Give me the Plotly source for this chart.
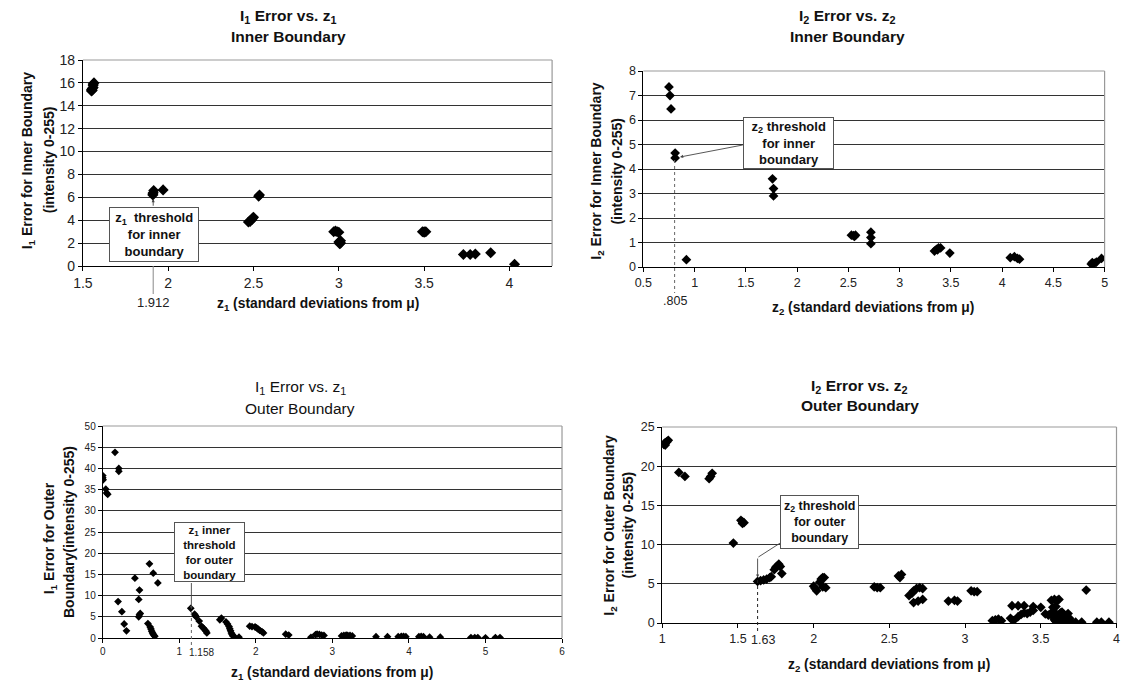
import plotly.graph_objects as go

W, H = 1121, 683
FONT = "Liberation Sans, Arial, sans-serif"

# ---------------- data ----------------
# Top-left: I1 error vs z1, inner boundary
tl_z1 = [1.55, 1.55, 1.555, 1.56, 1.56, 1.565, 1.56, 1.555,
         1.91, 1.912, 1.915, 1.91, 1.97,
         2.47, 2.48, 2.48, 2.49, 2.495, 2.50, 2.53, 2.535,
         2.97, 2.98, 2.99, 3.00, 3.01, 3.00, 3.01, 3.005,
         3.49, 3.50, 3.51, 3.50,
         3.73, 3.77, 3.80, 3.89, 4.03]
tl_err = [15.3, 15.4, 15.5, 15.6, 15.8, 16.0, 15.9, 15.35,
          6.2, 6.4, 6.6, 6.3, 6.65,
          3.85, 3.9, 3.95, 4.05, 4.2, 4.25, 6.1, 6.2,
          3.0, 3.05, 3.0, 2.95, 2.0, 2.1, 2.2, 1.95,
          3.0, 3.0, 3.0, 2.95,
          1.0, 1.0, 1.05, 1.15, 0.15]

# Top-right: I2 error vs z2, inner boundary
tr_z2 = [0.75, 0.76, 0.77, 0.81, 0.81, 0.92,
         1.76, 1.77, 1.77,
         2.53, 2.55, 2.57, 2.56,
         2.72, 2.72, 2.72,
         3.34, 3.36, 3.38, 3.40, 3.37, 3.49,
         4.08, 4.12, 4.15, 4.17,
         4.87, 4.88, 4.90, 4.92, 4.97]
tr_err = [7.35, 7.0, 6.45, 4.65, 4.45, 0.3,
          3.6, 3.2, 2.9,
          1.3, 1.28, 1.3, 1.25,
          1.42, 1.2, 0.95,
          0.65, 0.72, 0.78, 0.78, 0.7, 0.57,
          0.38, 0.42, 0.35, 0.32,
          0.12, 0.18, 0.15, 0.2, 0.35]

# Bottom-left: I1 error vs z1, outer boundary
bl_z1 = [0.0, 0.0, 0.005, 0.04, 0.05, 0.065, 0.16, 0.21, 0.21,
         0.2, 0.25, 0.28, 0.31, 0.42, 0.48, 0.47, 0.47, 0.48, 0.49,
         0.61, 0.66, 0.72, 0.59,
         0.62, 0.63, 0.64, 0.65, 0.66, 0.67, 0.68,
         1.15, 1.20, 1.21, 1.22, 1.26, 1.29, 1.31, 1.33, 1.35, 1.36,
         1.53, 1.55, 1.61, 1.63, 1.65, 1.66, 1.67, 1.68, 1.69, 1.70, 1.72, 1.78,
         1.92, 1.95, 1.99, 2.01, 2.03, 2.05, 2.08, 2.10,
         2.39, 2.43, 2.72, 2.78, 2.80, 2.83, 2.86, 2.89,
         3.12, 3.15, 3.18, 3.20, 3.23, 3.26,
         3.57, 3.72, 3.86, 3.90, 3.93, 3.96, 4.13, 4.16, 4.19, 4.27, 4.41,
         4.81, 4.86, 4.90, 5.00, 5.13, 5.19]
bl_err = [38.3, 37.8, 37.3, 35.1, 34.2, 33.9, 43.8, 40.0, 39.3,
          8.6, 6.2, 3.3, 1.7, 14.1, 11.3, 9.1, 5.0, 5.5, 5.8,
          17.5, 15.3, 13.0, 3.4,
          2.6, 2.1, 1.6, 1.2, 0.9, 0.6, 0.4,
          7.0, 5.6, 5.3, 5.0, 4.0, 2.8, 2.4, 2.0, 1.6, 1.2,
          4.3, 4.7, 3.8, 3.3, 2.7, 2.2, 1.7, 1.2, 0.8, 0.5, 0.3, 0.2,
          2.8, 2.7, 2.6, 2.4, 2.1, 1.8, 1.5, 1.2,
          0.9, 0.7, 0.15, 0.8, 0.9, 0.85, 0.7, 0.6,
          0.5, 0.6, 0.7, 0.6, 0.6, 0.5,
          0.3, 0.3, 0.3, 0.4, 0.4, 0.3, 0.3, 0.35, 0.3, 0.2, 0.2,
          0.1, 0.1, 0.1, 0.05, 0.1, 0.1]

# Bottom-right: I2 error vs z2, outer boundary
br_z2 = [1.01, 1.02, 1.03, 1.04, 1.02, 1.11, 1.15, 1.31, 1.32, 1.33,
         1.47, 1.52, 1.53, 1.54, 1.53,
         1.63, 1.65, 1.67, 1.69, 1.71, 1.72,
         1.74, 1.75, 1.76, 1.77, 1.78, 1.79,
         2.00, 2.01, 2.02, 2.04, 2.05, 2.06, 2.07, 2.06, 2.08,
         2.40, 2.42, 2.44, 2.56, 2.58, 2.57,
         2.63, 2.65, 2.66, 2.68, 2.70, 2.72, 2.66, 2.69, 2.72,
         2.89, 2.93, 2.95, 3.04, 3.06, 3.08,
         3.18, 3.20, 3.22, 3.24, 3.30, 3.32,
         3.31, 3.35, 3.39, 3.35, 3.37, 3.39, 3.41, 3.43, 3.45, 3.45, 3.50, 3.53,
         3.57, 3.59, 3.61, 3.62, 3.58, 3.60,
         3.55, 3.57, 3.58, 3.59, 3.60, 3.61, 3.62, 3.63, 3.64, 3.65, 3.66,
         3.67, 3.68, 3.69, 3.70, 3.60, 3.62, 3.65, 3.58, 3.64, 3.67,
         3.73, 3.77, 3.80, 3.87, 3.90, 3.95]
br_err = [22.8, 23.0, 23.1, 23.3, 22.7, 19.2, 18.7, 18.4, 18.7, 19.1,
          10.2, 13.1, 12.9, 12.8, 12.7,
          5.3, 5.4, 5.5, 5.6, 5.8, 5.9,
          6.8, 7.1, 7.3, 7.5, 7.2, 6.3,
          4.7, 4.4, 4.1, 5.2, 5.6, 5.8, 5.8, 4.6, 4.5,
          4.6, 4.5, 4.5, 6.0, 6.2, 5.8,
          3.5, 3.8, 4.1, 4.4, 4.5, 4.4, 2.6, 2.8, 3.0,
          2.8, 2.9, 2.8, 4.1, 4.0, 4.0,
          0.3, 0.4, 0.5, 0.3, 0.6, 0.3,
          2.2, 2.2, 2.2, 0.8, 1.1, 1.3, 1.2, 1.4, 1.6, 2.1, 2.0, 1.15,
          2.9, 3.0, 2.9, 3.0, 2.0, 2.1,
          1.0, 1.3, 0.8, 0.4, 1.2, 0.9, 0.5, 1.3, 0.7, 1.1, 0.3,
          0.9, 1.2, 0.6, 0.2, 0.2, 0.1, 0.6, 1.4, 1.4, 0.4,
          0.1, 0.1, 4.2, 0.1, 0.1, 0.1]

# axis ticks
tl_xticks = [1.5, 2, 2.5, 3, 3.5, 4]
tl_yticks = [0, 2, 4, 6, 8, 10, 12, 14, 16, 18]
tr_xticks = [0.5, 1, 1.5, 2, 2.5, 3, 3.5, 4, 4.5, 5]
tr_yticks = [0, 1, 2, 3, 4, 5, 6, 7, 8]
bl_xticks = [0, 1, 2, 3, 4, 5, 6]
bl_yticks = [0, 5, 10, 15, 20, 25, 30, 35, 40, 45, 50]
br_xticks = [1, 1.5, 2, 2.5, 3, 3.5, 4]
br_yticks = [0, 5, 10, 15, 20, 25]

# the photographed page comes out slightly shrunk about its centre;
# layout positions below are given in target-picture pixels and corrected here
KX = 1116 / 1121
KY = 667 / 683


def px(x):
    return (W / 2 + (x - W / 2) / KX) / W


def py(y):
    return 1 - (H / 2 + (y - H / 2) / KY) / H


def lbl(v):
    return ("%g" % v)


fig = go.Figure()

specs = [
    # name, xs, ys, axis suffix, marker size
    ("tl", tl_z1, tl_err, "", 8.5),
    ("tr", tr_z2, tr_err, "2", 7.5),
    ("bl", bl_z1, bl_err, "3", 6),
    ("br", br_z2, br_err, "4", 7.5),
]
for name, xs, ys, suf, ms in specs:
    fig.add_trace(go.Scatter(
        x=xs, y=ys, mode="markers",
        marker=dict(symbol="diamond", size=ms, color="black",
                    line=dict(width=0)),
        xaxis="x" + suf, yaxis="y" + suf, showlegend=False, hoverinfo="x+y"))

domains = {
    "": dict(x=[px(76), px(549)], y=[py(266), py(60)],
             xr=[1.5, 4.25], yr=[0, 18], xt=tl_xticks, yt=tl_yticks, tf=14),
    "2": dict(x=[px(641), px(1106)], y=[py(267), py(71)],
              xr=[0.5, 5], yr=[0, 8], xt=tr_xticks, yt=tr_yticks, tf=12.5),
    "3": dict(x=[px(96), px(559)], y=[py(638), py(426)],
              xr=[0, 6], yr=[0, 50], xt=bl_xticks, yt=bl_yticks, tf=10),
    "4": dict(x=[px(660), px(1118)], y=[py(623), py(427)],
              xr=[1, 4], yr=[0, 25], xt=br_xticks, yt=br_yticks, tf=12.5),
}

layout_axes = {}
shapes = []
for suf, d in domains.items():
    xa = "xaxis" + suf
    ya = "yaxis" + suf
    layout_axes[xa] = dict(
        domain=d["x"], range=d["xr"], anchor="y" + suf,
        tickvals=d["xt"], ticktext=[lbl(v) for v in d["xt"]],
        showgrid=False, zeroline=False, showline=True, linecolor="black",
        linewidth=1, ticks="outside", ticklen=4, tickcolor="black",
        tickfont=dict(family=FONT, size=d["tf"], color="#222"),
        fixedrange=True)
    layout_axes[ya] = dict(
        domain=d["y"], range=d["yr"], anchor="x" + suf,
        tickvals=d["yt"], ticktext=[lbl(v) for v in d["yt"]],
        showgrid=True, gridcolor="#333", gridwidth=1,
        zeroline=False, showline=True, linecolor="black",
        linewidth=1, ticks="outside", ticklen=4, tickcolor="black",
        tickfont=dict(family=FONT, size=d["tf"], color="#222"),
        fixedrange=True)
    xr = "x" + suf + " domain"
    yr = "y" + suf + " domain"
    shapes.append(dict(type="line", xref=xr, yref=yr, x0=0, x1=1, y0=1, y1=1,
                       line=dict(color="#999", width=1.2)))
    shapes.append(dict(type="line", xref=xr, yref=yr, x0=1, x1=1, y0=0, y1=1,
                       line=dict(color="#999", width=1.2)))

ann = []


def text(x, y, t, size=12, bold=True, angle=0, color="#111"):
    if bold:
        t = "<b>" + t + "</b>"
    ann.append(dict(x=px(x), y=py(y), xref="paper", yref="paper", text=t,
                    showarrow=False, xanchor="center", yanchor="middle",
                    textangle=angle,
                    font=dict(family=FONT, size=size, color=color)))


# chart titles
TS = 15.5
text(283, 17, "I<sub>1</sub> Error vs. z<sub>1</sub>", TS)
text(283, 37, "Inner Boundary", TS)
text(847, 17, "I<sub>2</sub> Error vs. z<sub>2</sub>", TS)
text(847, 37, "Inner Boundary", TS)
text(295, 388, "I<sub>1</sub> Error vs. z<sub>1</sub>", TS, bold=False)
text(295, 408, "Outer Boundary", TS, bold=False)
text(859, 386, "I<sub>2</sub> Error vs. z<sub>2</sub>", TS)
text(859, 406, "Outer Boundary", TS)

# x-axis titles
XS = 13.8
text(313, 304, "z<sub>1</sub> (standard deviations from μ)", XS)
text(873, 308, "z<sub>2</sub> (standard deviations from μ)", XS)
text(327, 673, "z<sub>1</sub> (standard deviations from μ)", XS)
text(889, 665, "z<sub>2</sub> (standard deviations from μ)", XS)

# y-axis titles
YS = 14
text(21, 160, "I<sub>1</sub> Error for Inner Boundary", YS, angle=-90)
text(42, 160, "(intensity 0-255)", YS, angle=-90)
text(594, 171, "I<sub>2</sub> Error for Inner Boundary", YS, angle=-90)
text(614, 171, "(intensity 0-255)", YS, angle=-90)
text(43, 538, "I<sub>1</sub> Error for Outer", YS, angle=-90)
text(62, 532, "Boundary(intensity 0-255)", YS, angle=-90)
text(607, 525, "I<sub>2</sub> Error for Outer Boundary", YS, angle=-90)
text(626, 525, "(intensity 0-255)", YS, angle=-90)

# threshold value labels below the axes
ann.append(dict(x=1.912, y=py(302), xref="x", yref="paper", text="1.912",
                showarrow=False, yanchor="middle",
                font=dict(family=FONT, size=13, color="#222")))
ann.append(dict(x=0.805, y=py(301), xref="x2", yref="paper", text=".805",
                showarrow=False, yanchor="middle",
                font=dict(family=FONT, size=12.5, color="#222")))
ann.append(dict(x=1.158, y=py(652), xref="x3", yref="paper", text="1.158",
                showarrow=False, xanchor="left", yanchor="middle", xshift=-4,
                font=dict(family=FONT, size=10, color="#222")))
ann.append(dict(x=1.63, y=py(640), xref="x4", yref="paper", text="1.63",
                showarrow=False, xanchor="center", yanchor="middle", xshift=5,
                font=dict(family=FONT, size=12.5, color="#222")))

# threshold marker lines
shapes.append(dict(type="line", xref="x", yref="paper", x0=1.912, x1=1.912,
                   y0=py(266), y1=py(294), line=dict(color="#888", width=1)))
shapes.append(dict(type="line", xref="x2", yref="paper", x0=0.805, x1=0.805,
                   y0=py(160), y1=py(293), line=dict(color="#666", width=1, dash="dot")))
shapes.append(dict(type="line", xref="x3", yref="paper", x0=1.158, x1=1.158,
                   y0=py(612), y1=py(646), line=dict(color="#666", width=1, dash="dot")))
shapes.append(dict(type="line", xref="x4", yref="paper", x0=1.63, x1=1.63,
                   y0=py(580), y1=py(632), line=dict(color="#222", width=1, dash="dot")))


def box(x, y, t, w, h, size):
    ann.append(dict(x=px(x), y=py(y), xref="paper", yref="paper",
                    text="<b>" + t + "</b>",
                    showarrow=False, xanchor="center", yanchor="middle",
                    width=w / KX, height=h / KY, bgcolor="white", bordercolor="#555",
                    borderwidth=1, borderpad=0,
                    font=dict(family=FONT, size=size, color="#111")))


def arrow(x, y, xref, yref, ax, ay):
    ann.append(dict(x=x, y=y, xref=xref, yref=yref, text="", showarrow=True,
                    ax=ax / KX, ay=ay / KY, axref="pixel", ayref="pixel",
                    arrowhead=2, arrowsize=0.7, arrowwidth=0.9,
                    arrowcolor="#444", standoff=0, startstandoff=0))


# annotation boxes with their pointers
box(148, 234, "z<sub>1</sub>&nbsp; threshold<br>for inner<br>boundary", 88, 52, 13)
arrow(1.912, 5.85, "x", "y", 0, 8)

box(787.5, 142.5, "z<sub>2</sub> threshold<br>for inner<br>boundary", 89, 49, 13)
arrow(0.858, 4.49, "x2", "y2", 64, -12)

box(203.5, 551.5, "z<sub>1</sub> inner<br>threshold<br>for outer<br>boundary", 69, 57, 11.5)
arrow(1.158, 6.8, "x3", "y3", 0, -27)

box(818.5, 521.5, "z<sub>2</sub> threshold<br>for outer<br>boundary", 77, 51, 12.5)
shapes.append(dict(type="line", xref="paper", yref="paper",
                   x0=px(779), y0=py(543), x1=px(757), y1=py(557),
                   line=dict(color="#444", width=0.9)))
arrow(1.63, 5.8, "x4", "y4", 0, -20)

fig.update_layout(
    width=W, height=H, margin=dict(l=0, r=0, t=0, b=0),
    paper_bgcolor="white", plot_bgcolor="white",
    font=dict(family=FONT, color="#111"),
    showlegend=False, shapes=shapes, annotations=ann, **layout_axes)

fig.write_html("out.html", config={"displayModeBar": False})
